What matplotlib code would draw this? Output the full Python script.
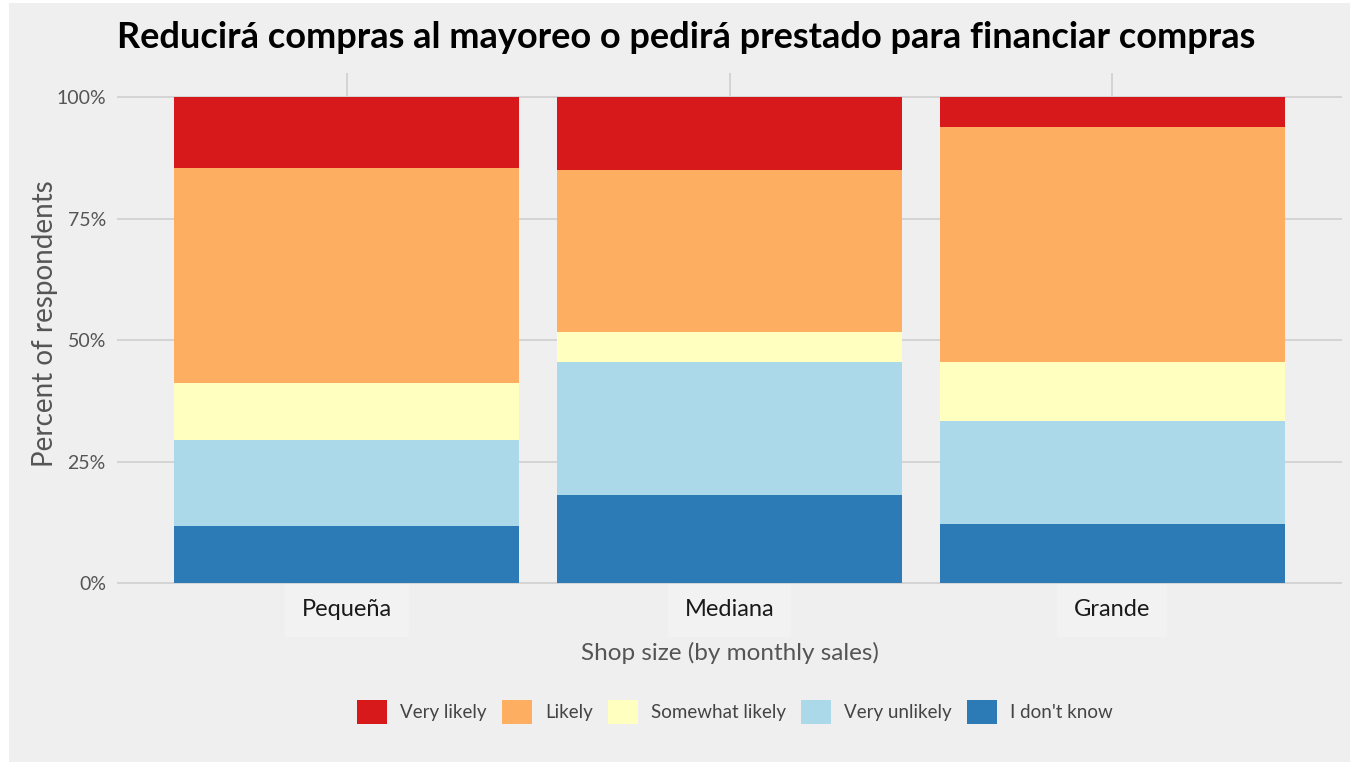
import numpy as np
import matplotlib
matplotlib.use("Agg")
import matplotlib.pyplot as plt
from matplotlib.patches import Rectangle
from matplotlib.ticker import FuncFormatter

plt.rcParams["font.family"] = ["Lato", "DejaVu Sans"]

shop_sizes = ["Pequeña", "Mediana", "Grande"]
# stacked bottom -> top
levels = ["I don't know", "Very unlikely", "Somewhat likely", "Likely", "Very likely"]
share_dont_know = [11.8, 18.2, 12.1]
share_very_unlikely = [17.6, 27.3, 21.2]
share_somewhat_likely = [11.8, 6.1, 12.1]
share_likely = [44.1, 33.3, 48.5]
share_very_likely = [14.7, 15.1, 6.1]
colors = ["#2c7bb6", "#abd9e9", "#ffffbf", "#fdae61", "#d7191c"]

BG = "#efefef"

fig = plt.figure(figsize=(13.5, 7.62), dpi=100, facecolor="white")
fig.add_artist(Rectangle((9 / 1350, 0), 1, 759 / 762, transform=fig.transFigure,
                         facecolor=BG, edgecolor="none", zorder=0))
ax = fig.add_axes([117 / 1350, 0.203, (1342 - 117) / 1350, 0.7016])
ax.set_facecolor("none")

x = np.arange(len(shop_sizes))
bottom = np.zeros(len(shop_sizes))
series = [share_dont_know, share_very_unlikely, share_somewhat_likely,
          share_likely, share_very_likely]
handles = {}
for name, vals, col in zip(levels, series, colors):
    vals = np.array(vals) / 100.0
    b = ax.bar(x, vals, bottom=bottom, width=0.9, color=col, edgecolor="none",
               zorder=2)
    handles[name] = b
    bottom += vals

ax.set_xlim(-0.6, 2.6)
ax.set_ylim(-0.05, 1.05)
ax.set_yticks([0, 0.25, 0.5, 0.75, 1.0])
ax.yaxis.set_major_formatter(FuncFormatter(lambda v, p: f"{int(round(v * 100))}%"))
ax.set_xticks(x)
ax.set_xticklabels(shop_sizes)
ax.grid(True, color="#d2d2d2", linewidth=1.3, zorder=1)
for s in ax.spines.values():
    s.set_visible(False)
ax.tick_params(axis="both", length=0)
ax.tick_params(axis="y", labelsize=14, labelcolor="#555555", pad=8)
ax.tick_params(axis="x", labelsize=17, labelcolor="#1a1a1a", pad=-6)
for lbl in ax.get_xticklabels():
    lbl.set_zorder(3)
    lbl.set_bbox(dict(facecolor="#f2f2f2", edgecolor="none", pad=12))

ax.set_xlabel("Shop size (by monthly sales)", fontsize=17.5, color="#555555",
              labelpad=16)
ax.set_ylabel("Percent of respondents", fontsize=20, color="#555555")
ax.yaxis.set_label_coords((58 - 117) / 1225, (607.3 - 324) / 534.6)

fig.suptitle("Reducirá compras al mayoreo o pedirá prestado para financiar compras",
             x=686 / 1350, y=1 - 38 / 762, va="center", fontsize=26,
             fontweight="bold", color="black")

order = ["Very likely", "Likely", "Somewhat likely", "Very unlikely", "I don't know"]
leg = ax.legend([handles[n] for n in order], order, loc="center", ncol=5,
                frameon=False, fontsize=13.5,
                handlelength=1.6, handleheight=1.6, handletextpad=0.7,
                columnspacing=0.8, labelcolor="#444444")
leg.set_bbox_to_anchor((735 / 1350, 1 - 712 / 762), transform=fig.transFigure)

fig.savefig("out.png", dpi=100, facecolor="white")
